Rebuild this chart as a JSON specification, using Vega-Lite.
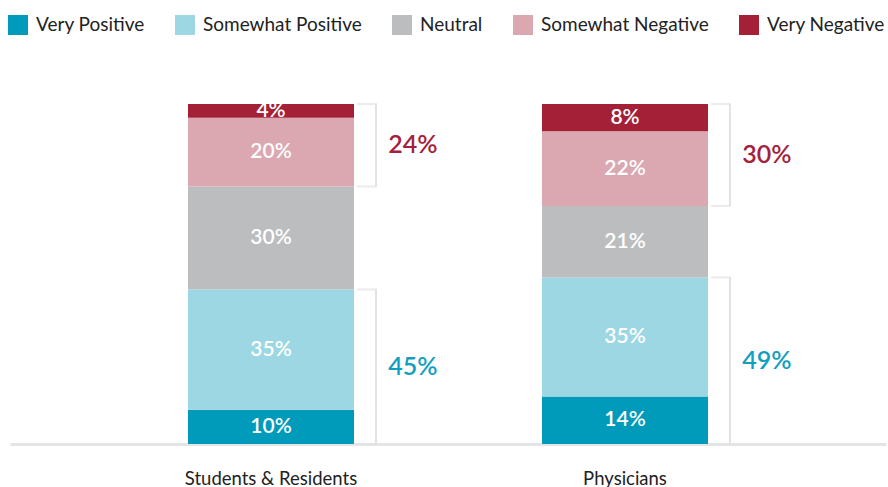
{
  "$schema": "https://vega.github.io/schema/vega-lite/v6.json",
  "width": 876,
  "height": 340,
  "autosize": "none",
  "padding": {"left": 10, "top": 104, "right": 2, "bottom": 43},
  "background": "white",
  "data": {
    "values": [
      {"category": "Students & Residents", "sentiment": "Very Positive", "tone": "Positive", "order": 1, "value": 10},
      {"category": "Students & Residents", "sentiment": "Somewhat Positive", "tone": "Positive", "order": 2, "value": 35},
      {"category": "Students & Residents", "sentiment": "Neutral", "tone": "Neutral", "order": 3, "value": 30},
      {"category": "Students & Residents", "sentiment": "Somewhat Negative", "tone": "Negative", "order": 4, "value": 20},
      {"category": "Students & Residents", "sentiment": "Very Negative", "tone": "Negative", "order": 5, "value": 4},
      {"category": "Physicians", "sentiment": "Very Positive", "tone": "Positive", "order": 1, "value": 14},
      {"category": "Physicians", "sentiment": "Somewhat Positive", "tone": "Positive", "order": 2, "value": 35},
      {"category": "Physicians", "sentiment": "Neutral", "tone": "Neutral", "order": 3, "value": 21},
      {"category": "Physicians", "sentiment": "Somewhat Negative", "tone": "Negative", "order": 4, "value": 22},
      {"category": "Physicians", "sentiment": "Very Negative", "tone": "Negative", "order": 5, "value": 8}
    ]
  },
  "transform": [
    {"stack": "value", "groupby": ["category"], "sort": [{"field": "order", "order": "ascending"}], "as": ["y0", "y1"], "offset": "normalize"},
    {"calculate": "(datum.y0 + datum.y1) / 2", "as": "mid"},
    {"calculate": "datum.value + '%'", "as": "label"}
  ],
  "encoding": {
    "x": {
      "field": "category",
      "type": "nominal",
      "sort": ["Students & Residents", "Physicians"],
      "scale": {"paddingInner": 0.5311, "paddingOuter": 0.5028},
      "axis": {
        "title": null,
        "labelAngle": 0,
        "labelFont": "Lato",
        "labelFontSize": 18.5,
        "labelColor": "#222222",
        "labelPadding": 25,
        "ticks": false,
        "domainColor": "#e5e5e5",
        "domainWidth": 3
      }
    }
  },
  "layer": [
    {
      "mark": {"type": "bar"},
      "encoding": {
        "y": {"field": "y0", "type": "quantitative", "scale": {"domain": [0, 1]}, "axis": null},
        "y2": {"field": "y1"},
        "color": {
          "field": "sentiment",
          "type": "nominal",
          "scale": {
            "domain": ["Very Positive", "Somewhat Positive", "Neutral", "Somewhat Negative", "Very Negative"],
            "range": ["#009bbb", "#9dd7e4", "#bcbdbf", "#dba7b0", "#a32036"]
          },
          "legend": {
            "title": null,
            "orient": "none",
            "direction": "horizontal",
            "legendX": -2,
            "legendY": -89,
            "symbolType": "square",
            "symbolSize": 400,
            "symbolStrokeWidth": 0,
            "symbolOpacity": 1,
            "labelFont": "Lato",
            "labelFontSize": 19,
            "labelLimit": 300,
            "labelColor": "#222222",
            "labelOffset": 8,
            "columnPadding": 30,
            "padding": 0
          }
        }
      }
    },
    {
      "mark": {"type": "text", "color": "white", "font": "Lato", "fontSize": 21, "fontWeight": 600, "baseline": "middle"},
      "encoding": {
        "y": {"field": "mid", "type": "quantitative"},
        "text": {"field": "label"}
      }
    },
    {
      "transform": [
        {"filter": "datum.tone !== 'Neutral'"},
        {"aggregate": [
          {"op": "min", "field": "y0", "as": "b0"},
          {"op": "max", "field": "y1", "as": "b1"},
          {"op": "sum", "field": "value", "as": "total"}
        ], "groupby": ["category", "tone"]},
        {"calculate": "(datum.b0 + datum.b1) / 2", "as": "bmid"},
        {"calculate": "datum.total + '%'", "as": "tlabel"}
      ],
      "layer": [
        {
          "mark": {"type": "rule", "xOffset": 105, "color": "#e3e3e3", "strokeWidth": 2},
          "encoding": {
            "y": {"field": "b0", "type": "quantitative"},
            "y2": {"field": "b1"}
          }
        },
        {
          "mark": {"type": "tick", "xOffset": 96, "color": "#e3e3e3", "thickness": 2, "size": 20, "orient": "horizontal"},
          "encoding": {
            "y": {"field": "b0", "type": "quantitative"}
          }
        },
        {
          "mark": {"type": "tick", "xOffset": 96, "color": "#e3e3e3", "thickness": 2, "size": 20, "orient": "horizontal"},
          "encoding": {
            "y": {"field": "b1", "type": "quantitative"}
          }
        },
        {
          "mark": {"type": "text", "xOffset": 142, "font": "Lato", "fontSize": 25, "fontWeight": 600, "baseline": "middle"},
          "encoding": {
            "y": {"field": "bmid", "type": "quantitative"},
            "text": {"field": "tlabel"},
            "color": {
              "condition": {"test": "datum.tone === 'Negative'", "value": "#a3213a"},
              "value": "#129fbf"
            }
          }
        }
      ]
    }
  ],
  "config": {
    "view": {"stroke": null},
    "text": {"font": "Lato"}
  }
}
